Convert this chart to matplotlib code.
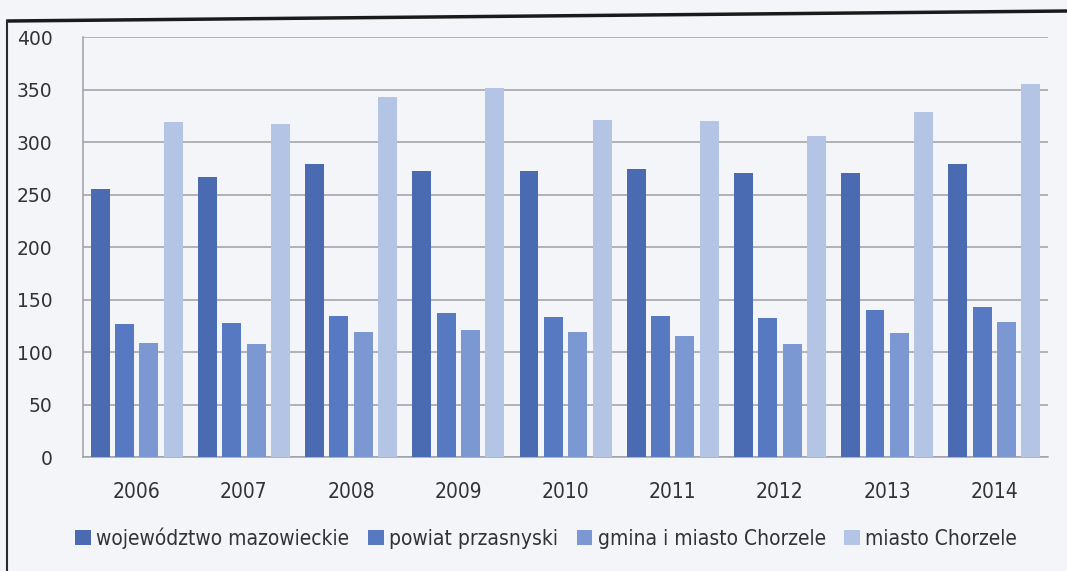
import matplotlib.pyplot as plt
import numpy as np
from matplotlib.lines import Line2D

lata = ['2006', '2007', '2008', '2009', '2010', '2011', '2012', '2013', '2014']
wojewodztwo = [255, 267, 279, 272, 272, 274, 271, 271, 279]
powiat = [127, 128, 134, 137, 133, 134, 132, 140, 143]
gmina = [109, 108, 119, 121, 119, 115, 108, 118, 129]
miasto = [319, 317, 343, 352, 321, 320, 306, 329, 355]

serie = [
    ('województwo mazowieckie', wojewodztwo, '#4a6ab2'),
    ('powiat przasnyski', powiat, '#5679c2'),
    ('gmina i miasto Chorzele', gmina, '#7b98d2'),
    ('miasto Chorzele', miasto, '#b3c4e4'),
]

tlo = '#f4f5f9'

fig = plt.figure(figsize=(10.67, 5.71), dpi=100, facecolor=tlo)
ax = fig.add_axes([0.0778, 0.1996, 0.9044, 0.7354])
ax.set_facecolor(tlo)

x = np.arange(len(lata))
krok = 0.227
szer = 0.177
for i, (nazwa, wartosci, kolor) in enumerate(serie):
    ax.bar(x + (i - 1.5) * krok, wartosci, width=szer, color=kolor,
           label=nazwa, zorder=3)

ax.set_xlim(-0.5, len(lata) - 0.5)
ax.set_ylim(0, 400)
ax.set_yticks(range(0, 401, 50))
ax.yaxis.grid(True, color='#9e9ea6', linewidth=1.1, zorder=0)
ax.set_xticks(x)
ax.set_xticklabels(lata, fontsize=15, fontstretch='condensed', color='#333333')
ax.tick_params(axis='y', labelsize=13.5, colors='#333333', length=0, pad=22)
ax.tick_params(axis='x', length=0, pad=18)
for s in ['top', 'right']:
    ax.spines[s].set_visible(False)
ax.spines['left'].set_color('#a0a0a8')
ax.spines['bottom'].set_color('#a0a0a8')
ax.spines['left'].set_linewidth(1.1)
ax.spines['bottom'].set_linewidth(1.1)

leg = fig.legend(loc='center', bbox_to_anchor=(0.512, 0.058), ncol=4,
                 frameon=False, handlelength=0.75, handleheight=0.75,
                 handletextpad=0.25, columnspacing=0.9,
                 prop={'size': 15, 'stretch': 'condensed'})
for t in leg.get_texts():
    t.set_color('#333333')

# ramka skanu
fig.add_artist(Line2D([8 / 1067, 1], [1 - 21 / 571, 1 - 11 / 571],
                      transform=fig.transFigure, color='#1a1a1a', linewidth=2.5))
fig.add_artist(Line2D([7 / 1067, 7 / 1067], [0, 1 - 21 / 571],
                      transform=fig.transFigure, color='#2a2a2a', linewidth=1.5))

fig.savefig('out.png', dpi=100, facecolor=tlo)
